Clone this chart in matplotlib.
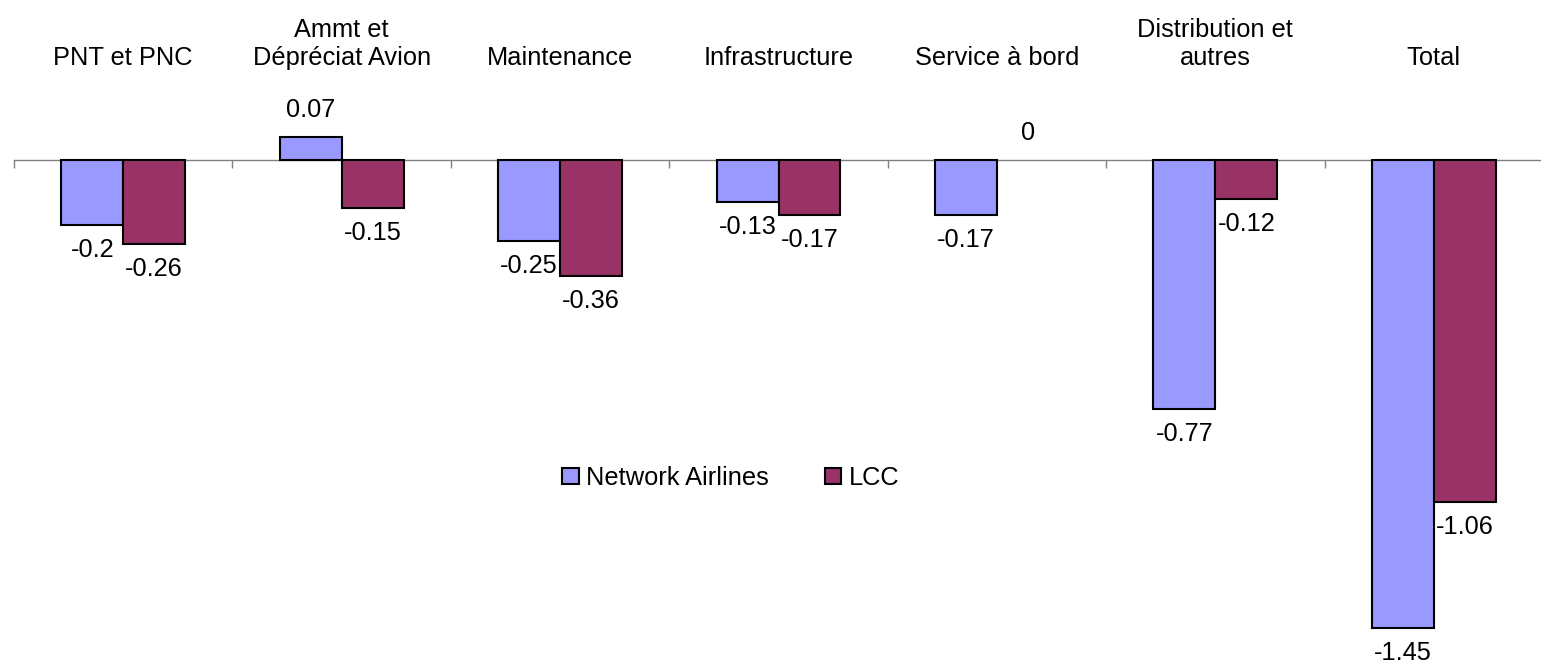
import matplotlib
matplotlib.use("Agg")
import matplotlib.pyplot as plt
import matplotlib.transforms as mtransforms
import numpy as np

categories = ["PNT et PNC", "Ammt et\nDépréciat Avion", "Maintenance", "Infrastructure",
              "Service à bord", "Distribution et\nautres", "Total"]
network = [-0.20, 0.07, -0.25, -0.13, -0.17, -0.77, -1.45]
lcc = [-0.26, -0.15, -0.36, -0.17, 0.0, -0.12, -1.06]
series_names = ["Network Airlines", "LCC"]
colors = ["#9999FF", "#993366"]

plt.rcParams["font.family"] = ["Liberation Sans", "DejaVu Sans"]
FS = 18.3

W, H = 1541, 665
fig = plt.figure(figsize=(W / 100, H / 100), dpi=100)
ax = fig.add_axes([14 / W, 0, 1529 / W, 1])

x = np.arange(len(categories))
bw = 62 / 218.5
for i, (vals, c) in enumerate(zip([network, lcc], colors)):
    offs = (i - 0.5) * bw
    lws = [1.5 if v != 0 else 0 for v in vals]
    ax.bar(x + offs, vals, bw, color=c, edgecolor="black", linewidth=lws,
           zorder=3, label=series_names[i])
    for xi, v in zip(x + offs, vals):
        off = 19.5 if v >= 0 else -18
        ax.annotate(f"{v:g}", (xi, v), xytext=(0, off), textcoords="offset points",
                    ha="center", va="center", fontsize=FS, zorder=4)

ax.set_xlim(-0.5, len(categories) - 0.5)
top = 160 / 323
bottom = -(H - 160) / 323
ax.set_ylim(bottom, top)

for s in ["left", "right", "top"]:
    ax.spines[s].set_visible(False)
ax.spines["bottom"].set_position(("data", 0))
ax.spines["bottom"].set_color("#808080")
ax.spines["bottom"].set_linewidth(1.0)
ax.spines["bottom"].set_zorder(2)
ax.set_yticks([])
ax.set_xticks(np.arange(len(categories) + 1) - 0.5)
ax.set_xticklabels([])
ax.tick_params(axis="x", direction="out", length=6, width=1.0, color="#808080")

trans = mtransforms.blended_transform_factory(ax.transData, ax.transAxes)
for xi, cat in zip(x, categories):
    ax.text(xi, 1 - 65 / H, cat, transform=trans, ha="center", va="baseline",
            fontsize=FS, linespacing=1.2, multialignment="center")

leg = ax.legend(loc="center", bbox_to_anchor=(731 / W, 1 - 478 / H),
                bbox_transform=fig.transFigure, ncol=2, frameon=False,
                fontsize=FS, handlelength=0.64, handleheight=0.64,
                handletextpad=0.3, columnspacing=2.2)

fig.savefig("out.png", dpi=100)
